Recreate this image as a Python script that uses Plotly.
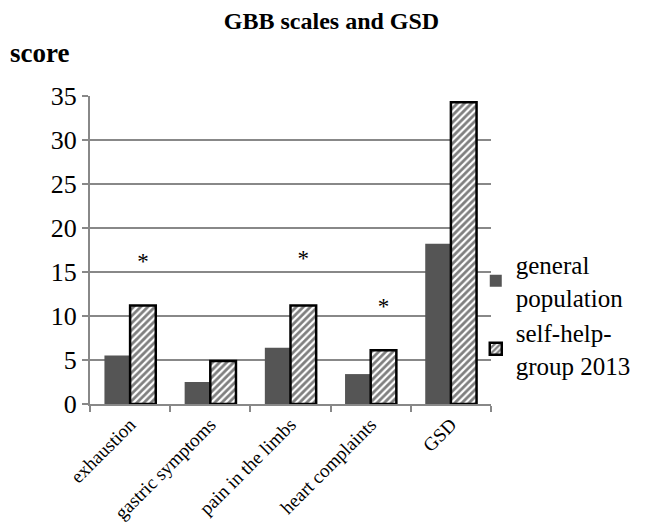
import plotly.graph_objects as go

categories = ["exhaustion", "gastric symptoms", "pain in the limbs", "heart complaints", "GSD"]
general_population = [5.5, 2.5, 6.4, 3.4, 18.2]
self_help_2013 = [11.2, 4.9, 11.2, 6.1, 34.3]
asterisk_y = [16.0, None, 16.3, 10.9, 39.0]
y_ticks = [0, 5, 10, 15, 20, 25, 30, 35]

FONT = "Liberation Serif"
BARGAP = 0.36

fig = go.Figure()
fig.add_trace(go.Bar(
    x=categories, y=general_population, name="general<br>population",
    marker=dict(color="#555555", line=dict(width=0)),
))
fig.add_trace(go.Bar(
    x=categories, y=self_help_2013, name="self-help-<br>group 2013",
    marker=dict(color="white", line=dict(color="black", width=2.5),
                pattern=dict(shape="/", fgcolor="black", bgcolor="white", size=5, solidity=0.55)),
))

# asterisks above the self-help bars (centre of the second bar in each group)
star_x = [i + (1 - BARGAP) / 4 for i, yv in enumerate(asterisk_y) if yv is not None]
star_y = [yv for yv in asterisk_y if yv is not None]
fig.add_trace(go.Scatter(
    x=star_x, y=star_y, mode="text", text=["*"] * len(star_x), xaxis="x2",
    textfont=dict(size=23, color="black", family=FONT),
    cliponaxis=False, showlegend=False, hoverinfo="skip",
))

fig.add_annotation(xref="paper", yref="paper", x=-0.2045, y=1.14, text="<b>score</b>",
                   showarrow=False, xanchor="left", yanchor="middle",
                   font=dict(size=27, color="black", family=FONT))

fig.update_layout(
    width=647, height=530,
    margin=dict(l=82, r=164, t=88, b=134, autoexpand=False),
    paper_bgcolor="white", plot_bgcolor="white",
    title=dict(text="<b>GBB scales and GSD</b>", x=0.5, xref="container", y=0.977, yref="container",
               yanchor="middle", xanchor="center",
               font=dict(size=24, color="black", family=FONT)),
    font=dict(family=FONT, color="black"),
    barmode="group", bargap=BARGAP, bargroupgap=0.0,
    showlegend=True,
    legend=dict(x=0.962, y=0.29, xanchor="left", yanchor="middle",
                font=dict(size=25, color="black", family=FONT),
                tracegroupgap=12, itemwidth=30, bgcolor="rgba(0,0,0,0)"),
    xaxis=dict(showline=True, linecolor="#888888", linewidth=2, ticks="outside",
               tickson="boundaries", ticklen=6, tickcolor="#888888", tickwidth=2,
               tickangle=-45, automargin=False,
               tickfont=dict(size=19, color="black", family=FONT)),
    xaxis2=dict(overlaying="x", range=[-0.5, 4.5], visible=False),
    yaxis=dict(range=[0, 35], tickvals=y_ticks, showgrid=True, gridcolor="#888888", gridwidth=2,
               showline=True, linecolor="#888888", linewidth=2, ticks="outside", ticklen=6,
               tickcolor="#888888", tickwidth=2, zeroline=False, automargin=False,
               tickfont=dict(size=26, color="black", family=FONT)),
)

fig.write_html("out.html")
